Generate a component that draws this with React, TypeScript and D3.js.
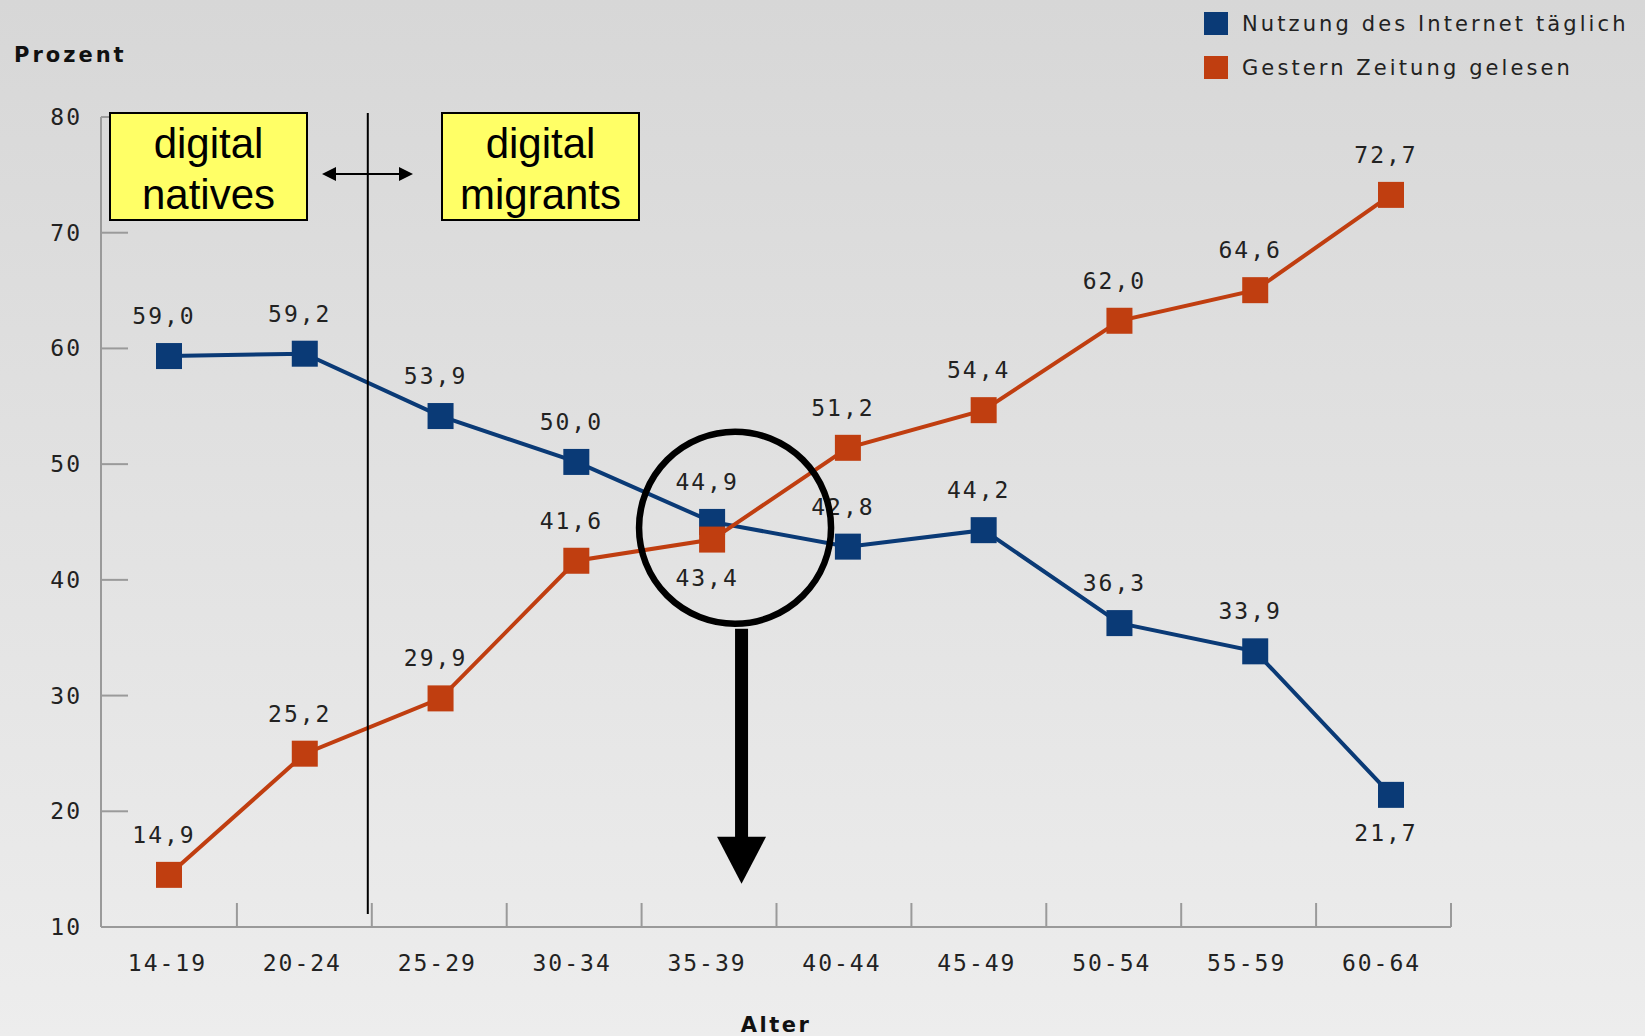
import React from 'react';
import * as d3 from 'd3';

const ageGroups = ['14-19', '20-24', '25-29', '30-34', '35-39', '40-44', '45-49', '50-54', '55-59', '60-64'];
const internetDaily = [59.0, 59.2, 53.9, 50.0, 44.9, 42.8, 44.2, 36.3, 33.9, 21.7];
const newspaperYesterday = [14.9, 25.2, 29.9, 41.6, 43.4, 51.2, 54.4, 62.0, 64.6, 72.7];
const yTicks = [10, 20, 30, 40, 50, 60, 70, 80];
// labels drawn under the marker instead of above
const internetBelow = ['60-64'];
const newspaperBelow = ['35-39'];

const W = 1645;
const H = 1036;
const BLUE = '#0a3a76';
const ORANGE = '#c03e10';
const monoFont = '"DejaVu Sans Mono", monospace';
const sansFont = '"DejaVu Sans", sans-serif';

const fmt = (v: number) => v.toFixed(1).replace('.', ',');

export default function App() {
  // axis frame
  const x = d3.scaleBand<string>().domain(ageGroups).range([102, 1451]);
  const y = d3.scaleLinear().domain([10, 80]).range([927, 117]);
  // the original chart plots its marks on a slightly wider frame than the axis
  const xm = d3.scalePoint<string>().domain(ageGroups).range([169, 1391]);
  const ym = d3.scaleLinear().domain([10, 80]).range([932.5, 109]);
  const cx = (c: string) => (x(c) || 0) + x.bandwidth() / 2;

  const line = d3
    .line<number>()
    .x((_, i) => xm(ageGroups[i]) || 0)
    .y(d => ym(d));

  const series = [
    { name: 'Nutzung des Internet täglich', values: internetDaily, color: BLUE, below: internetBelow },
    { name: 'Gestern Zeitung gelesen', values: newspaperYesterday, color: ORANGE, below: newspaperBelow },
  ];

  const sq = 26;
  const divider = (x('25-29') || 0) - 4;
  const focusX = cx('35-39') + 26;
  const focusY = y(44.5);

  return (
    <div style={{ position: 'absolute', left: 0, top: 0 }}>
      <svg width={W} height={H} style={{ display: 'block' }}>
        <defs>
          <linearGradient id="bg" x1="0" y1="0" x2="0" y2="1">
            <stop offset="0" stopColor="#d7d7d7" />
            <stop offset="1" stopColor="#ededed" />
          </linearGradient>
        </defs>
        <rect width={W} height={H} fill="url(#bg)" />

        {/* axes */}
        <line x1={101} x2={101} y1={y(80)} y2={y(10)} stroke="#9a9a9a" strokeWidth={2} />
        <line x1={101} x2={1451} y1={y(10)} y2={y(10)} stroke="#9a9a9a" strokeWidth={2} />
        {yTicks.map(t => (
          <g key={t}>
            {t > 10 && <line x1={101} x2={128} y1={y(t)} y2={y(t)} stroke="#9a9a9a" strokeWidth={2} />}
            <text x={82} y={y(t) + 8} textAnchor="end" fontFamily={monoFont} fontSize={23} letterSpacing={2} fill="#222">
              {t}
            </text>
          </g>
        ))}
        {ageGroups.map((c, i) => (
          <g key={c}>
            {i > 0 && (
              <line x1={x(c)} x2={x(c)} y1={y(10)} y2={y(10) - 24} stroke="#9a9a9a" strokeWidth={2} />
            )}
            <text x={cx(c) - 2} y={971} textAnchor="middle" fontFamily={monoFont} fontSize={23} letterSpacing={2} fill="#222">
              {c}
            </text>
          </g>
        ))}
        <line x1={1451} x2={1451} y1={y(10)} y2={y(10) - 24} stroke="#9a9a9a" strokeWidth={2} />

        <text x={14} y={62} fontFamily={sansFont} fontWeight="bold" fontSize={21} letterSpacing={3} fill="#111">
          Prozent
        </text>
        <text x={776} y={1032} textAnchor="middle" fontFamily={sansFont} fontWeight="bold" fontSize={21} letterSpacing={2.5} fill="#111">
          Alter
        </text>

        {/* series */}
        {series.map(s => (
          <g key={s.name}>
            <path d={line(s.values) || ''} fill="none" stroke={s.color} strokeWidth={4} />
            {s.values.map((v, i) => (
              <rect key={i} x={(xm(ageGroups[i]) || 0) - sq / 2} y={ym(v) - sq / 2} width={sq} height={sq} fill={s.color} />
            ))}
            {s.values.map((v, i) => (
              <text
                key={'t' + i}
                x={(xm(ageGroups[i]) || 0) - 5}
                y={s.below.includes(ageGroups[i]) ? ym(v) + 46 : ym(v) - 32}
                textAnchor="middle"
                fontFamily={monoFont}
                fontSize={23}
                letterSpacing={2}
                fill="#222"
              >
                {fmt(v)}
              </text>
            ))}
          </g>
        ))}

        {/* legend */}
        {series.map((s, i) => (
          <g key={'l' + s.name} transform={`translate(1204,${12 + i * 44})`}>
            <rect width={24} height={23} fill={s.color} />
            <text x={38} y={19} fontFamily={sansFont} fontSize={21} letterSpacing={3.1} fill="#222">
              {s.name}
            </text>
          </g>
        ))}

        {/* annotations */}
        <line x1={divider} x2={divider} y1={113} y2={914} stroke="#000" strokeWidth={2} />
        <line x1={332} x2={404} y1={174} y2={174} stroke="#000" strokeWidth={2} />
        <path d="M322,174 L336,167 L336,181 Z" fill="#000" />
        <path d="M413,174 L399,167 L399,181 Z" fill="#000" />
        {[
          { x0: 110, lines: ['digital', 'natives'] },
          { x0: 442, lines: ['digital', 'migrants'] },
        ].map(b => (
          <g key={b.x0}>
            <rect x={b.x0} y={113} width={197} height={107} fill="#ffff66" stroke="#000" strokeWidth={2} />
            {b.lines.map((t, k) => (
              <text key={t} x={b.x0 + 98.5} y={158 + k * 51} textAnchor="middle" fontFamily='"Liberation Sans", Arial, sans-serif' fontSize={42} fill="#000">
                {t}
              </text>
            ))}
          </g>
        ))}
        <circle cx={focusX} cy={focusY} r={96} fill="none" stroke="#000" strokeWidth={6.5} />
        <rect x={focusX} y={focusY + 101} width={13} height={212} fill="#000" />
        <path d={`M${focusX - 18},${focusY + 309} L${focusX + 31},${focusY + 309} L${focusX + 6.5},${focusY + 356} Z`} fill="#000" />
      </svg>
    </div>
  );
}
